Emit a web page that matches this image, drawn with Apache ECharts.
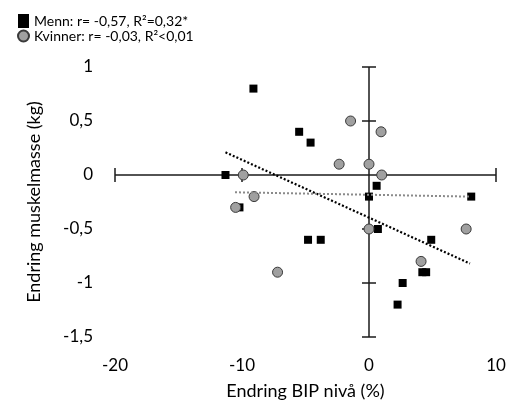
<!DOCTYPE html>
<html>
<head>
<meta charset="utf-8">
<script src="https://cdn.jsdelivr.net/npm/echarts@6/dist/echarts.min.js"></script>
<style>html,body{margin:0;padding:0;background:#fff;}#c{width:509px;height:405px;}</style>
</head>
<body>
<div id="c"></div>
<script>
const menName = 'Menn: r= -0,57, R²=0,32*';
const womenName = 'Kvinner: r= -0,03, R²<0,01';
const xTitle = 'Endring BIP nivå (%)';
const yTitle = 'Endring muskelmasse (kg)';
const xTicks = [-20, -10, 0, 10];
const yTicks = [-1.5, -1, -0.5, 0, 0.5, 1];
const menData = [
  [-9.1, 0.80], [-5.5, 0.40], [-4.6, 0.30], [-11.3, 0.0], [-10.2, -0.30],
  [0.6, -0.10], [0.0, -0.20], [8.05, -0.20], [0.7, -0.50], [-4.8, -0.60],
  [-3.8, -0.60], [4.9, -0.60], [4.2, -0.90], [4.5, -0.90], [2.65, -1.0],
  [2.25, -1.2]
];
const womenData = [
  [-9.9, 0.0], [-9.05, -0.20], [-10.5, -0.30], [-7.2, -0.90], [-1.45, 0.50],
  [0.95, 0.40], [-2.35, 0.10], [0.0, 0.10], [1.0, 0.0], [0.0, -0.50],
  [7.65, -0.50], [4.1, -0.80]
];
const menTrend = [[-11.3, 0.21], [7.95, -0.82]];
const womenTrend = [[-10.55, -0.16], [7.95, -0.20]];

const FONT = 'Lato';
const chart = echarts.init(document.getElementById('c'), null, {renderer: 'canvas'});
const tickLen = 7;
const axisColor = '#1a1a1a';

function renderAxes(params, api) {
  const xMin = xTicks[0], xMax = xTicks[xTicks.length - 1];
  const yMin = yTicks[0], yMax = yTicks[yTicks.length - 1];
  const children = [];
  const st = {stroke: axisColor, lineWidth: 1.5};
  const a = api.coord([xMin, 0]), b = api.coord([xMax, 0]);
  children.push({type: 'line', shape: {x1: a[0], y1: a[1], x2: b[0], y2: b[1]}, style: st});
  const c = api.coord([0, yMin]), d = api.coord([0, yMax]);
  children.push({type: 'line', shape: {x1: c[0], y1: c[1], x2: d[0], y2: d[1]}, style: st});
  xTicks.forEach(function (t) {
    if (t === 0) return;
    const p = api.coord([t, 0]);
    children.push({type: 'line', shape: {x1: p[0], y1: p[1] - tickLen, x2: p[0], y2: p[1] + tickLen}, style: st});
  });
  yTicks.forEach(function (t) {
    if (t === 0) return;
    const p = api.coord([0, t]);
    children.push({type: 'line', shape: {x1: p[0] - tickLen, y1: p[1], x2: p[0] + tickLen, y2: p[1]}, style: st});
  });
  return {type: 'group', children: children};
}

chart.setOption({
  animation: false,
  backgroundColor: '#fff',
  textStyle: {fontFamily: FONT},
  grid: {left: 115, right: 13, top: 67, bottom: 65, containLabel: false},
  legend: {
    orient: 'vertical', left: 12, top: 9, itemGap: 1, itemWidth: 11, itemHeight: 14,
    textStyle: {fontFamily: FONT, fontSize: 14, color: '#000'},
    data: [
      {name: menName, icon: 'rect'},
      {name: womenName, icon: 'circle'}
    ]
  },
  xAxis: {
    type: 'value', min: xTicks[0], max: xTicks[xTicks.length - 1], interval: 10,
    axisLine: {show: false}, axisTick: {show: false}, splitLine: {show: false},
    axisLabel: {fontFamily: FONT, fontSize: 17, color: '#000', margin: 20, showMinLabel: true, showMaxLabel: true},
    name: xTitle, nameLocation: 'middle', nameGap: 45,
    nameTextStyle: {fontFamily: FONT, fontSize: 18, color: '#000'}
  },
  yAxis: {
    type: 'value', min: yTicks[0], max: yTicks[yTicks.length - 1], interval: 0.5,
    axisLine: {show: false}, axisTick: {show: false}, splitLine: {show: false},
    axisLabel: {fontFamily: FONT, fontSize: 17, color: '#000', margin: 22,
      formatter: function (v) { return String(v).replace('.', ','); }},
    name: yTitle, nameLocation: 'middle', nameGap: 72,
    nameTextStyle: {fontFamily: FONT, fontSize: 18, color: '#000'}
  },
  series: [
    {type: 'custom', name: 'axes', renderItem: renderAxes, data: [[0, 0]], silent: true, z: 1, clip: false},
    {type: 'scatter', name: menName, data: menData, symbol: 'rect', symbolSize: 8,
      itemStyle: {color: '#000', borderColor: '#000', borderWidth: 0, opacity: 1}, z: 2},
    {type: 'scatter', name: womenName, data: womenData, symbol: 'circle', symbolSize: 10,
      itemStyle: {color: '#a0a0a0', borderColor: '#3a3a3a', borderWidth: 1, opacity: 1}, z: 3},
    {type: 'line', name: 'trendMen', data: menTrend, symbol: 'none', silent: true, z: 4,
      lineStyle: {color: '#000', width: 2.2, type: [2, 2]}},
    {type: 'line', name: 'trendWomen', data: womenTrend, symbol: 'none', silent: true, z: 4,
      lineStyle: {color: '#8a8a8a', width: 2, type: [2, 2]}}
  ]
});
</script>
</body>
</html>
